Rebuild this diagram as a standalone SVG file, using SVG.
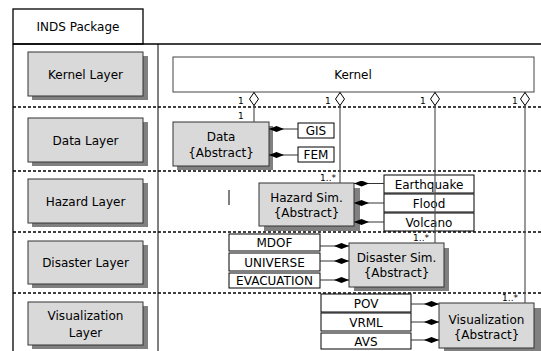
<svg xmlns="http://www.w3.org/2000/svg" width="541" height="351" viewBox="0 0 541 351">
<style>
text{font-family:"DejaVu Sans","Verdana",sans-serif;fill:#000}
.lt{font-size:12px;text-anchor:middle}
.bt{font-size:12px;text-anchor:middle}
.sm{font-size:9px}
.layer{fill:#d9d9d9;stroke:#333;stroke-width:1}
.cls{fill:#d9d9d9;stroke:#333;stroke-width:1}
.shadow{fill:#808080}
.leaf{fill:#fff;stroke:#000;stroke-width:1}
.dash{stroke:#000;stroke-width:1.5;stroke-dasharray:3,2;fill:none}
.agg{stroke:#555;stroke-width:1.2;fill:none;marker-start:url(#hollow)}
.comp{stroke:#333;stroke-width:1;fill:none;marker-end:url(#filled)}
</style>
<defs>
<marker id="hollow" viewBox="0 0 14 10" refX="0" refY="5" markerWidth="14" markerHeight="10" markerUnits="userSpaceOnUse" orient="auto">
<path d="M0.5,5 L7,0.5 L13.5,5 L7,9.5 Z" fill="#fff" stroke="#000" stroke-width="1"/>
</marker>
<marker id="filled" viewBox="0 0 15 6" refX="15" refY="3" markerWidth="15" markerHeight="6" markerUnits="userSpaceOnUse" orient="auto">
<path d="M0,3 L7.5,0 L15,3 L7.5,6 Z" fill="#000"/>
</marker>
</defs>
<rect width="541" height="351" fill="#fff"/>
<g id="package">
<rect x="13" y="9" width="130" height="35" fill="#fff" stroke="#000" stroke-width="1.3"/>
<text x="78" y="31" class="lt">INDS Package</text>
<line x1="13" y1="44" x2="541" y2="44" stroke="#000" stroke-width="1.3"/>
<line x1="13" y1="44" x2="13" y2="351" stroke="#000" stroke-width="1.3"/>
<line x1="158" y1="44" x2="158" y2="351" stroke="#000" stroke-width="1"/>
<line x1="13" y1="107" x2="541" y2="107" class="dash"/>
<line x1="13" y1="171" x2="541" y2="171" class="dash"/>
<line x1="13" y1="232" x2="541" y2="232" class="dash"/>
<line x1="13" y1="293" x2="541" y2="293" class="dash"/>
<line x1="229" y1="190" x2="229" y2="205" stroke="#000" stroke-width="1"/>
</g>
<g id="kernel-layer">
<rect x="32" y="56" width="116" height="44" class="shadow"/>
<rect x="28" y="52" width="115" height="44" class="layer"/>
<text x="85.5" y="78.5" class="lt">Kernel Layer</text>
</g>
<g id="data-layer">
<rect x="32" y="122" width="116" height="44" class="shadow"/>
<rect x="28" y="118" width="115" height="44" class="layer"/>
<text x="85.5" y="144.5" class="lt">Data Layer</text>
</g>
<g id="hazard-layer">
<rect x="32" y="183" width="116" height="44" class="shadow"/>
<rect x="28" y="179" width="115" height="44" class="layer"/>
<text x="85.5" y="205.5" class="lt">Hazard Layer</text>
</g>
<g id="disaster-layer">
<rect x="32" y="245" width="116" height="43" class="shadow"/>
<rect x="28" y="241" width="115" height="43" class="layer"/>
<text x="85.5" y="267" class="lt">Disaster Layer</text>
</g>
<g id="visualization-layer">
<rect x="32" y="306" width="116" height="43" class="shadow"/>
<rect x="28" y="302" width="115" height="43" class="layer"/>
<text x="85.5" y="320" class="lt">Visualization</text>
<text x="85.5" y="337" class="lt">Layer</text>
</g>
<g id="kernel">
<rect x="173" y="57" width="361" height="35" fill="#fff" stroke="#444" stroke-width="1"/>
<text x="353" y="79" class="bt">Kernel</text>
</g>
<g id="data">
<rect x="177" y="126" width="96" height="44" class="shadow"/>
<rect x="173" y="122" width="96" height="44" class="cls"/>
<text x="221" y="141" class="bt">Data</text>
<text x="221" y="157" class="bt">{Abstract}</text>
</g>
<g id="gis"><rect x="298" y="123" width="36" height="15" class="leaf"/><text x="316" y="135" class="bt">GIS</text></g>
<g id="fem"><rect x="298" y="147" width="36" height="15" class="leaf"/><text x="316" y="159" class="bt">FEM</text></g>
<g id="hazard">
<rect x="264" y="188" width="96" height="43" class="shadow"/>
<rect x="259" y="183" width="95" height="43" class="cls"/>
<text x="306.5" y="202" class="bt">Hazard Sim.</text>
<text x="306.5" y="217" class="bt">{Abstract}</text>
</g>
<g id="earthquake"><rect x="384" y="175" width="90" height="18" class="leaf"/><text x="429" y="188.5" class="bt">Earthquake</text></g>
<g id="flood"><rect x="384" y="194" width="90" height="18" class="leaf"/><text x="429" y="207.5" class="bt">Flood</text></g>
<g id="volcano"><rect x="384" y="213" width="90" height="18" class="leaf"/><text x="429" y="226.5" class="bt">Volcano</text></g>
<g id="disaster">
<rect x="354" y="248" width="95" height="43" class="shadow"/>
<rect x="349" y="243" width="95" height="44" class="cls"/>
<text x="396.5" y="262" class="bt">Disaster Sim.</text>
<text x="396.5" y="277" class="bt">{Abstract}</text>
</g>
<g id="mdof"><rect x="229" y="234" width="91" height="17" class="leaf"/><text x="274.5" y="247" class="bt">MDOF</text></g>
<g id="universe"><rect x="229" y="253" width="91" height="18" class="leaf"/><text x="274.5" y="266.5" class="bt">UNIVERSE</text></g>
<g id="evacuation"><rect x="229" y="273" width="91" height="15" class="leaf"/><text x="274.5" y="285" class="bt">EVACUATION</text></g>
<g id="visualization">
<rect x="444" y="308" width="97" height="43" class="shadow"/>
<rect x="439" y="303" width="95" height="45" class="cls"/>
<text x="486.5" y="324" class="bt">Visualization</text>
<text x="486.5" y="339" class="bt">{Abstract}</text>
</g>
<g id="pov"><rect x="321" y="294" width="90" height="18" class="leaf"/><text x="366" y="307.5" class="bt">POV</text></g>
<g id="vrml"><rect x="321" y="313" width="90" height="18" class="leaf"/><text x="366" y="326.5" class="bt">VRML</text></g>
<g id="avs"><rect x="321" y="333" width="90" height="16" class="leaf"/><text x="366" y="345.5" class="bt">AVS</text></g>
<g id="connectors">
<line x1="298" y1="129" x2="269" y2="129" class="comp"/>
<line x1="298" y1="155" x2="269" y2="155" class="comp"/>
<line x1="384" y1="183.5" x2="354" y2="183.5" class="comp"/>
<line x1="384" y1="203" x2="354" y2="203" class="comp"/>
<line x1="384" y1="222" x2="354" y2="222" class="comp"/>
<line x1="320" y1="246" x2="349" y2="246" class="comp"/>
<line x1="320" y1="261" x2="349" y2="261" class="comp"/>
<line x1="320" y1="280" x2="349" y2="280" class="comp"/>
<line x1="411" y1="304" x2="439" y2="304" class="comp"/>
<line x1="411" y1="322" x2="439" y2="322" class="comp"/>
<line x1="411" y1="340" x2="439" y2="340" class="comp"/>
<line x1="254" y1="92" x2="254" y2="122" class="agg"/>
<line x1="340" y1="92" x2="340" y2="183" class="agg"/>
<line x1="435" y1="92" x2="435" y2="243" class="agg"/>
<line x1="525" y1="92" x2="525" y2="303" class="agg"/>
<text x="238" y="104" class="sm">1</text>
<text x="325" y="104" class="sm">1</text>
<text x="420" y="104" class="sm">1</text>
<text x="512" y="104" class="sm">1</text>
<text x="238" y="119" class="sm">1</text>
<text x="336" y="181" class="sm" text-anchor="end">1..*</text>
<text x="429" y="241" class="sm" text-anchor="end">1..*</text>
<text x="518" y="301" class="sm" text-anchor="end">1..*</text>
</g>
</svg>
